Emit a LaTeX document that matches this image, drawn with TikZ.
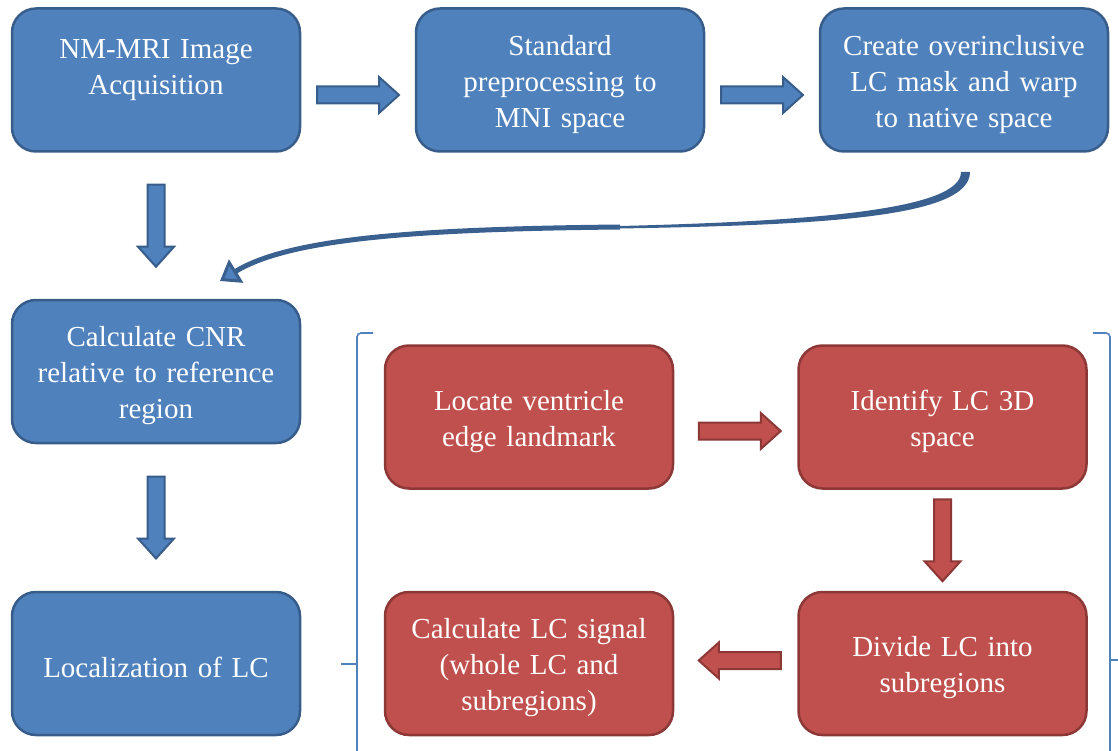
\documentclass[tikz,border=0pt]{standalone}
\usepackage{fontspec}
\setmainfont{Liberation Serif}
\usetikzlibrary{arrows.meta,calc}
\definecolor{bfill}{HTML}{4F81BD}
\definecolor{bdraw}{HTML}{385D8A}
\definecolor{rfill}{HTML}{C0504D}
\definecolor{rdraw}{HTML}{8C3836}
\definecolor{cdraw}{HTML}{3A6090}
\tikzset{
  box/.style={rounded corners=24pt, minimum width=288pt, minimum height=143pt,
    line width=2.5pt, align=center, text width=276pt, text=white, inner sep=0pt,
    font=\fontsize{29}{36}\selectfont, execute at begin node={\rule{0pt}{29pt}}},
  bluebox/.style={box, fill=bfill, draw=bdraw},
  redbox/.style={box, fill=rfill, draw=rdraw},
  pics/barrow/.style={code={
    \path[pic actions] (-41,-8.5) -- (21,-8.5) -- (21,-18) -- (41,0) -- (21,18)
      -- (21,8.5) -- (-41,8.5) -- cycle;}},
  bluearrow/.style={fill=bfill, draw=bdraw, line width=2pt},
  redarrow/.style={fill=rfill, draw=rdraw, line width=2pt},
  brace/.style={draw=bfill, line width=1.6pt, rounded corners=4pt}
}
\begin{document}
\begin{tikzpicture}[x=1pt,y=-1pt]
\useasboundingbox (0,0) rectangle (1118,751);
\node[bluebox] (b1) at (156,80) {NM-MRI Image\\Acquisition\\\phantom{A}};
\node[bluebox] (b2) at (560,80) {Standard\\preprocessing to\\MNI space};
\node[bluebox] (b3) at (964,80) {Create overinclusive\\LC mask and warp\\to native space};
\node[bluebox] (b4) at (156,371.5) {Calculate CNR\\relative to reference\\region};
\node[bluebox] (b5) at (156,663.5) {Localization of LC};
\node[redbox] (r1) at (529,417) {Locate ventricle\\edge landmark};
\node[redbox] (r2) at (942.5,417) {Identify LC 3D\\space};
\node[redbox] (r3) at (942.5,663.5) {Divide LC into\\subregions};
\node[redbox] (r4) at (529,663.5) {Calculate LC signal\\(whole LC and\\subregions)};
% block arrows
\pic[bluearrow] at ($(b1.east)!0.5!(b2.west)+(0,15)$) {barrow};
\pic[bluearrow] at ($(b2.east)!0.5!(b3.west)+(0,15)$) {barrow};
\pic[bluearrow, rotate=-90] at ($(b1.south)!0.5!(b4.north)$) {barrow};
\pic[bluearrow, rotate=-90] at ($(b4.south)!0.5!(b5.north)$) {barrow};
\pic[redarrow] at ($(r1.east)!0.5!(r2.west)+(4,14)$) {barrow};
\pic[redarrow, rotate=-90] at ($(r2.south)!0.5!(r3.north)$) {barrow};
\pic[redarrow, rotate=180] at ($(r3.west)!0.5!(r4.east)+(4,-3)$) {barrow};
% curved arrow from b3 towards b4
\coordinate (cs) at (965,172);
\coordinate (cm) at (620,227);
\coordinate (ce) at (220,281);
\fill[cdraw] (961,172) .. controls (961,209) and (820,221) .. (620,226)
  -- (620,228.5) .. controls (820,225) and (970,218) .. (970,172) -- cycle;
\draw[cdraw, line width=5pt, -{Triangle[length=19pt,width=27pt,open,line width=3pt,fill=bfill]}]
  (cm) .. controls (420,229) and (290,238) .. (ce);
% brackets
\draw[brace] (373,333) -- (357,333) -- (357,751);
\draw[brace, rounded corners=0pt] (357,664) -- (341,664);
\draw[brace] (1093,333) -- (1110,333) -- (1110,751);
\draw[brace, rounded corners=0pt] (1110,660) -- (1118,660);
\end{tikzpicture}
\end{document}
